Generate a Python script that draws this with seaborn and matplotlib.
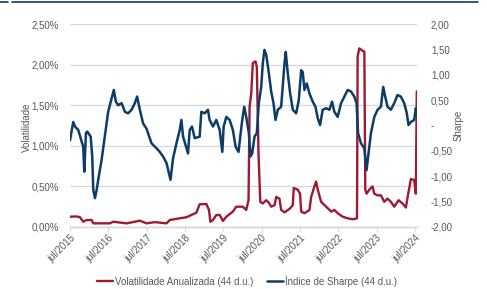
import numpy as np
import pandas as pd
import matplotlib
matplotlib.use("Agg")
import matplotlib.pyplot as plt
import matplotlib.dates as mdates
from matplotlib.ticker import FuncFormatter, MultipleLocator
from matplotlib.lines import Line2D
import seaborn as sns

### Data

vol_dates = [
    "2015-07-01", "2015-09-03", "2015-10-04", "2015-11-04", "2015-12-07", "2016-01-23",
    "2016-02-08", "2016-07-15", "2016-08-16", "2016-12-24", "2017-04-27", "2017-06-29",
    "2017-09-16", "2018-01-06", "2018-02-06", "2018-05-12", "2018-07-15", "2018-08-31",
    "2018-10-18", "2018-11-18", "2019-01-21", "2019-02-15", "2019-02-28", "2019-03-25",
    "2019-04-26", "2019-05-28", "2019-06-28", "2019-07-30", "2019-10-01", "2019-11-02",
    "2020-01-04", "2020-02-05", "2020-02-27", "2020-03-08", "2020-03-24", "2020-04-08",
    "2020-05-04", "2020-05-16", "2020-06-01", "2020-06-18", "2020-07-12", "2020-08-14",
    "2020-09-07", "2020-09-30", "2020-11-01", "2020-11-17", "2020-12-18", "2021-01-03",
    "2021-02-04", "2021-03-30", "2021-04-24", "2021-05-03", "2021-06-10", "2021-07-02",
    "2021-07-13", "2021-08-13", "2021-09-30", "2021-10-16", "2021-11-16", "2021-12-02",
    "2021-12-18", "2022-01-19", "2022-02-20", "2022-03-24", "2022-04-25", "2022-05-25",
    "2022-06-26", "2022-08-12", "2022-09-29", "2022-11-15", "2022-12-27", "2023-01-02",
    "2023-01-18", "2023-02-18", "2023-03-07", "2023-03-16", "2023-03-28", "2023-04-23",
    "2023-05-24", "2023-06-10", "2023-07-11", "2023-08-12", "2023-09-13", "2023-10-14",
    "2023-11-15", "2023-12-17", "2024-01-27", "2024-03-05", "2024-04-06", "2024-05-01",
    "2024-05-24", "2024-06-24", "2024-07-10", "2024-07-19",
]
vol_values = [
    0.127, 0.13, 0.12, 0.065, 0.086, 0.086,
    0.045, 0.045, 0.065, 0.045, 0.078, 0.045,
    0.06, 0.045, 0.086, 0.107, 0.12, 0.148,
    0.176, 0.28, 0.283, 0.21, 0.065, 0.086,
    0.148, 0.148, 0.074, 0.127, 0.19, 0.25,
    0.25, 0.21, 0.33, 1.48, 1.65, 2.02,
    2.04, 1.97, 0.91, 0.31, 0.29, 0.33,
    0.30, 0.25, 0.27, 0.37, 0.35, 0.21,
    0.18, 0.23, 0.27, 0.48, 0.46, 0.41,
    0.19, 0.17, 0.21, 0.37, 0.50, 0.56,
    0.46, 0.31, 0.27, 0.23, 0.19, 0.21,
    0.17, 0.127, 0.107, 0.095, 0.107, 2.10,
    2.20, 2.17, 2.16, 0.46, 0.41, 0.46,
    0.50, 0.41, 0.39, 0.39, 0.31, 0.35,
    0.31, 0.25, 0.33, 0.29, 0.24, 0.43,
    0.59, 0.58, 0.41, 1.67,
]

sharpe_dates = [
    "2015-07-01", "2015-08-01", "2015-08-18", "2015-09-18", "2015-10-11", "2015-11-04",
    "2015-11-14", "2015-11-30", "2015-12-13", "2016-01-14", "2016-01-29", "2016-02-08",
    "2016-02-24", "2016-03-11", "2016-03-26", "2016-04-27", "2016-05-29", "2016-06-29",
    "2016-08-01", "2016-08-22", "2016-09-10", "2016-10-02", "2016-11-04", "2016-12-05",
    "2017-01-05", "2017-02-07", "2017-03-10", "2017-04-01", "2017-04-27", "2017-05-28",
    "2017-06-29", "2017-08-16", "2017-10-03", "2017-11-03", "2017-12-04", "2018-01-06",
    "2018-02-13", "2018-03-09", "2018-04-11", "2018-05-12", "2018-05-28", "2018-06-13",
    "2018-07-30", "2018-08-15", "2018-09-06", "2018-10-02", "2018-11-18", "2018-12-04",
    "2019-01-05", "2019-02-05", "2019-02-21", "2019-03-25", "2019-04-26", "2019-05-28",
    "2019-06-22", "2019-07-05", "2019-07-30", "2019-08-31", "2019-10-01", "2019-10-27",
    "2019-11-24", "2019-12-10", "2019-12-29", "2020-01-17", "2020-02-05", "2020-03-01",
    "2020-03-17", "2020-04-02", "2020-04-24", "2020-05-16", "2020-06-04", "2020-06-27",
    "2020-07-12", "2020-07-28", "2020-08-14", "2020-09-04", "2020-09-30", "2020-10-22",
    "2020-11-10", "2020-12-02", "2021-01-03", "2021-02-04", "2021-02-16", "2021-03-07",
    "2021-03-30", "2021-04-24", "2021-05-26", "2021-06-20", "2021-07-13", "2021-07-28",
    "2021-08-13", "2021-09-04", "2021-09-30", "2021-10-31", "2021-11-26", "2021-12-18",
    "2022-01-09", "2022-02-03", "2022-03-07", "2022-04-08", "2022-05-03", "2022-05-25",
    "2022-06-26", "2022-07-28", "2022-08-28", "2022-09-29", "2022-10-31", "2022-12-01",
    "2022-12-23", "2023-01-06", "2023-02-03", "2023-03-07", "2023-03-28", "2023-04-16",
    "2023-05-09", "2023-06-10", "2023-07-11", "2023-08-12", "2023-09-03", "2023-09-22",
    "2023-10-14", "2023-11-15", "2023-12-17", "2024-01-17", "2024-02-18", "2024-03-21",
    "2024-04-15", "2024-05-01", "2024-05-24", "2024-06-24", "2024-07-10", "2024-07-19",
]
sharpe_values = [
    -0.29, 0.07, -0.02, -0.09, -0.25, -0.42,
    -0.91, -0.15, -0.12, -0.22, -0.61, -1.27,
    -1.43, -1.27, -1.07, -0.68, -0.19, 0.27,
    0.54, 0.70, 0.47, 0.40, 0.44, 0.27,
    0.24, 0.31, 0.44, 0.57, 0.31, 0.04,
    -0.06, -0.35, -0.45, -0.52, -0.61, -0.74,
    -1.07, -0.65, -0.35, -0.09, 0.11, -0.22,
    -0.55, -0.09, -0.02, -0.25, -0.22, 0.27,
    0.24, 0.31, 0.11, -0.02, 0.11, -0.09,
    -0.52, -0.02, 0.17, 0.11, -0.09, -0.42,
    -0.52, -0.22, 0.11, 0.37, 0.17, -0.15,
    -0.61, -0.55, -0.22, -0.15, 0.44, 0.76,
    1.23, 1.49, 1.39, 1.09, 0.67, 0.44,
    0.11, 0.31, 0.37, 1.23, 1.45, 1.03,
    0.63, 0.31, 0.24, 0.50, 1.09, 1.05,
    0.70, 0.83, 0.63, 0.47, 0.37, 0.14,
    0.01, 0.31, 0.34, 0.31, 0.47, 0.27,
    0.17, 0.44, 0.57, 0.70, 0.67, 0.57,
    0.44, -0.15, -0.35, -0.45, -0.88, -0.55,
    -0.15, 0.17, 0.31, 0.37, 0.76, 0.57,
    0.37, 0.31, 0.44, 0.60, 0.57, 0.44,
    0.24, 0.01, 0.07, 0.11, 0.34, 0.21,
]

vol_label = "Volatilidade Anualizada (44 d.u.)"
sharpe_label = "Índice de Sharpe (44 d.u.)"

RED = "#9D1A32"
BLUE = "#0D3D66"
GREY = "#595959"
GRID = "#D9D9D9"

vol_df = pd.DataFrame({"date": pd.to_datetime(vol_dates), "vol": vol_values})
sharpe_df = pd.DataFrame({"date": pd.to_datetime(sharpe_dates), "sharpe": sharpe_values})

### Plot

sns.set_style("white")
plt.rcParams["font.family"] = ["Liberation Sans", "DejaVu Sans"]

fig = plt.figure(figsize=(4.87, 2.89), dpi=100)
ax = fig.add_axes([70 / 487, 1 - 227 / 289, 347 / 487, 203 / 289])
ax2 = ax.twinx()

sns.lineplot(data=vol_df, x="date", y="vol", ax=ax, color=RED, linewidth=1.7, legend=False)
sns.lineplot(data=sharpe_df, x="date", y="sharpe", ax=ax2, color=BLUE, linewidth=1.8, legend=False)

ax.set_xlim(pd.Timestamp("2015-07-01"), pd.Timestamp("2024-07-21"))
ax.set_ylim(0, 2.5)
ax2.set_ylim(-2, 2)

ax.yaxis.set_major_locator(MultipleLocator(0.5))
ax.yaxis.set_major_formatter(FuncFormatter(lambda v, p: "{:.2f}%".format(v).replace(".", ",")))
ax2.yaxis.set_major_locator(MultipleLocator(0.5))


def sharpe_fmt(v, p):
    if abs(v) < 1e-9:
        return "-"
    return "{:.2f}".format(v).replace(".", ",")


ax2.yaxis.set_major_formatter(FuncFormatter(sharpe_fmt))

ax.xaxis.set_major_locator(mdates.MonthLocator(bymonth=7))
ax.xaxis.set_major_formatter(mdates.DateFormatter("jul/%Y"))

ax.grid(axis="y", color=GRID, linewidth=1)
ax.grid(axis="x", visible=False)
ax2.grid(False)
ax.set_axisbelow(True)

for a in (ax, ax2):
    for s in ("top", "left", "right"):
        a.spines[s].set_visible(False)
    a.spines["bottom"].set_color(GRID)
    a.spines["bottom"].set_linewidth(1)

ax.tick_params(axis="y", length=0, labelsize=7, labelcolor=GREY, pad=8)
ax2.tick_params(axis="y", length=0, labelsize=7, labelcolor=GREY, pad=10)
ax.tick_params(axis="x", length=3, color=GRID, labelsize=7, labelcolor=GREY, pad=1,
               bottom=True)
for lbl in ax.get_xticklabels():
    lbl.set_rotation(45)
    lbl.set_ha("right")
    lbl.set_rotation_mode("anchor")

ax.set_xlabel("")
ax.set_ylabel("Volatilidade", fontsize=7, color=GREY)
ax2.set_ylabel("Sharpe", fontsize=7, color=GREY)
ax.yaxis.set_label_coords((32 - 70) / 347, 0.49)
ax2.yaxis.set_label_coords((454 - 70) / 347, 0.5)

handles = [Line2D([], [], color=RED, linewidth=1.7), Line2D([], [], color=BLUE, linewidth=1.8)]
fig.legend(handles, [vol_label, sharpe_label], loc="center", bbox_to_anchor=(247 / 487, 1 - 281 / 289),
           ncol=2, frameon=False, fontsize=7, labelcolor=GREY, handlelength=1.6,
           handletextpad=0.2, columnspacing=1.5)

# thin dark border line at the top edge of the crop
fig.add_artist(Line2D([0, 8 / 487], [1 - 1.5 / 289] * 2, color=BLUE, linewidth=1.2))
fig.add_artist(Line2D([12 / 487, 478 / 487], [1 - 1.5 / 289] * 2, color=BLUE, linewidth=1.2))

fig.savefig("out.png", dpi=100)
